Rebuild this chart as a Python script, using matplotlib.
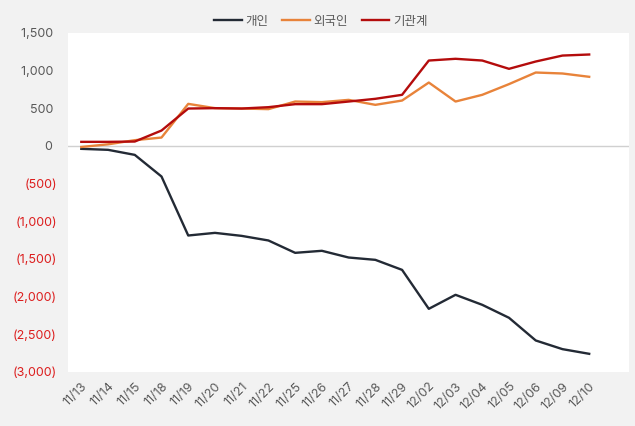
import numpy as np
import matplotlib.pyplot as plt
from matplotlib.ticker import FuncFormatter

plt.rcParams['font.family'] = ['Inter', 'Noto Sans CJK KR', 'DejaVu Sans']

# data
dates = ['11/13', '11/14', '11/15', '11/18', '11/19', '11/20', '11/21', '11/22', '11/25', '11/26',
         '11/27', '11/28', '11/29', '12/02', '12/03', '12/04', '12/05', '12/06', '12/09', '12/10']
individual = [-40, -53, -120, -407, -1190, -1155, -1195, -1256, -1420, -1393,
              -1482, -1513, -1646, -2163, -1977, -2110, -2282, -2583, -2698, -2760]
foreign = [-15, 20, 75, 110, 557, 500, 495, 487, 588, 580,
           610, 544, 601, 840, 588, 677, 819, 973, 960, 916]
institution = [53, 53, 57, 203, 495, 500, 495, 513, 553, 553,
               588, 624, 677, 1132, 1155, 1132, 1022, 1119, 1198, 1212]
labels = ['개인', '외국인', '기관계']
colors = ['#232a35', '#e8833a', '#b40c0c']


def fmt(v, pos):
    # accounting style: negatives in brackets, positives padded
    if v < 0:
        return f'({abs(v):,.0f})'
    return f'{v:,.0f} '


fig = plt.figure(figsize=(6.35, 4.26), dpi=100, facecolor='#f2f2f2')
ax = fig.add_axes([0.107, 0.127, 0.884, 0.796])
ax.set_facecolor('white')

x = np.arange(len(dates))
for series, lab, c in zip([individual, foreign, institution], labels, colors):
    ax.plot(x, series, color=c, lw=1.7, label=lab)

ax.axhline(0, color='#d0d0d0', lw=1, zorder=0)

ax.set_xlim(-0.5, len(dates) + 0.5)
ax.set_ylim(-3000, 1500)
ax.set_yticks(np.arange(-3000, 1501, 500))
ax.yaxis.set_major_formatter(FuncFormatter(fmt))
ax.set_xticks(x)
ax.set_xticklabels(dates, rotation=45, ha='right', rotation_mode='anchor')

for s in ax.spines.values():
    s.set_visible(False)
ax.tick_params(axis='both', length=0, labelsize=9, colors='#595959')
ax.tick_params(axis='y', pad=8)
ax.tick_params(axis='x', pad=6)
for t, v in zip(ax.get_yticklabels(), ax.get_yticks()):
    if v < 0:
        t.set_color('#dc1e1e')

fig.legend(loc='upper center', bbox_to_anchor=(0.505, 0.99), ncol=3, frameon=False,
           fontsize=9, handlelength=2.2, columnspacing=1.1, handletextpad=0.3,
           labelcolor='#595959')

fig.savefig('out.png', dpi=100, facecolor=fig.get_facecolor())
